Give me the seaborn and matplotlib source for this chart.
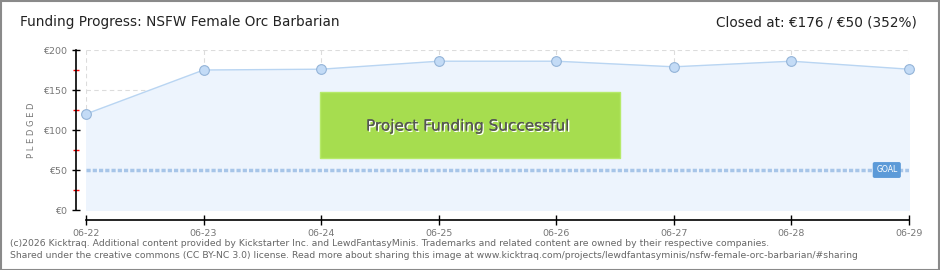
import matplotlib
matplotlib.use("Agg")
import matplotlib.pyplot as plt
import seaborn as sns
import pandas as pd
from matplotlib.ticker import FixedLocator
from matplotlib.patches import Rectangle
import matplotlib.patheffects as pe

dates = ["06-22", "06-23", "06-24", "06-25", "06-26", "06-27", "06-28", "06-29"]
pledged = [120, 175, 176, 186, 186, 179, 186, 176]
goal = 50
y_ticks = [0, 50, 100, 150, 200]
y_tick_labels = ["€0", "€50", "€100", "€150", "€200"]

title = "Funding Progress: NSFW Female Orc Barbarian"
closed_text = "Closed at: €176 / €50 (352%)"
footer1 = ("(c)2026 Kicktraq. Additional content provided by Kickstarter Inc. and LewdFantasyMinis. "
           "Trademarks and related content are owned by their respective companies.")
footer2 = ("Shared under the creative commons (CC BY-NC 3.0) license. Read more about sharing this image at "
           "www.kicktraq.com/projects/lewdfantasyminis/nsfw-female-orc-barbarian/#sharing")

sns.set_style("white")
plt.rcParams['font.family'] = ['DejaVu Sans']

df = pd.DataFrame({"x": range(len(dates)), "pledged": pledged})

W, H = 940, 270
fig = plt.figure(figsize=(W / 100, H / 100), dpi=100)
fig.patch.set_facecolor("white")
fig.patches.append(Rectangle((0.5 / W, 0.5 / H), 1 - 1.5 / W, 1 - 1.5 / H, transform=fig.transFigure,
                             fill=False, edgecolor="#8a8a8a", linewidth=1.5))

left, right, top, bottom = 86, 909, 50, 210
ax = fig.add_axes([left / W, 1 - bottom / H, (right - left) / W, (bottom - top) / H])
ax.set_facecolor("none")

# grid
for xi in range(len(dates)):
    ax.axvline(xi, color="#dcdcdc", lw=0.8, ls=(0, (4, 3)), zorder=0)
for yv in y_ticks:
    ax.axhline(yv, color="#dcdcdc", lw=0.8, ls=(0, (4, 3)), zorder=0)

ax.fill_between(df["x"], df["pledged"], 0, color="#edf4fd", zorder=1)

sns.lineplot(data=df, x="x", y="pledged", ax=ax, color="#b9d5f2", lw=1.0, zorder=3,
             marker="o", markersize=7, markerfacecolor="#c3dbf6", markeredgecolor="#94b4d8",
             markeredgewidth=0.8, clip_on=False)

ax.axhline(goal, color="#a7c5e8", lw=2.5, ls=(0, (1.2, 0.6)), zorder=2)

ax.set_xlim(0, len(dates) - 1)
ax.set_ylim(0, 200)
ax.set_xlabel("")
ax.set_ylabel("")

ax.set_xticks(range(len(dates)))
ax.set_xticklabels(dates)
ax.set_yticks(y_ticks)
ax.set_yticklabels(y_tick_labels)
ax.yaxis.set_minor_locator(FixedLocator([25, 75, 125, 175]))
ax.tick_params(axis="y", which="major", left=True, direction="inout", length=6, width=1, color="black",
               pad=4, labelsize=6.8, labelcolor="#777777")
ax.tick_params(axis="y", which="minor", left=True, direction="inout", length=4, width=1, color="red")
ax.tick_params(axis="x", which="major", bottom=True, direction="inout", length=7, width=1, color="black",
               pad=3, labelsize=6.8, labelcolor="#777777")

for s in ["top", "right"]:
    ax.spines[s].set_visible(False)
ax.spines["left"].set_position(("outward", 7))
ax.spines["bottom"].set_position(("outward", 7))
for s in ["left", "bottom"]:
    ax.spines[s].set_color("black")
    ax.spines[s].set_linewidth(1.2)

fig.text(32 / W, 1 - 130 / H, "P L E D G E D", fontsize=6, color="#777777", rotation=90,
         ha="center", va="center")

# goal label
ax.annotate("GOAL", xy=(1.0, goal), xycoords=("axes fraction", "data"), xytext=(-16, 0),
            textcoords="offset points", ha="center", va="center", fontsize=5.6, color="white",
            bbox=dict(boxstyle="round,pad=0.35,rounding_size=0.15", fc="#5c9ad8", ec="#5c9ad8"), zorder=6)

# success box
fig.patches.append(Rectangle((320 / W, 1 - 158 / H), 300 / W, 66 / H, transform=fig.transFigure,
                             facecolor="#a6dd4f", edgecolor="#b6ea6a", lw=1, zorder=5))
fig.text(468 / W, 1 - 126 / H, "Project Funding Successful", fontsize=11, color="#555555",
         ha="center", va="center", zorder=6,
         path_effects=[pe.withSimplePatchShadow(offset=(1, -1), shadow_rgbFace="white", alpha=1.0), pe.Normal()])

fig.text(20 / W, 1 - 22 / H, title, fontsize=9.8, color="#222222", ha="left", va="center")
fig.text(917 / W, 1 - 22 / H, closed_text, fontsize=9.8, color="#222222", ha="right", va="center")

fig.text(10 / W, 1 - 243 / H, footer1, fontsize=6.65, color="#666666", ha="left", va="center")
fig.text(10 / W, 1 - 256 / H, footer2, fontsize=6.7, color="#666666", ha="left", va="center")

fig.savefig("out.png", dpi=100)
